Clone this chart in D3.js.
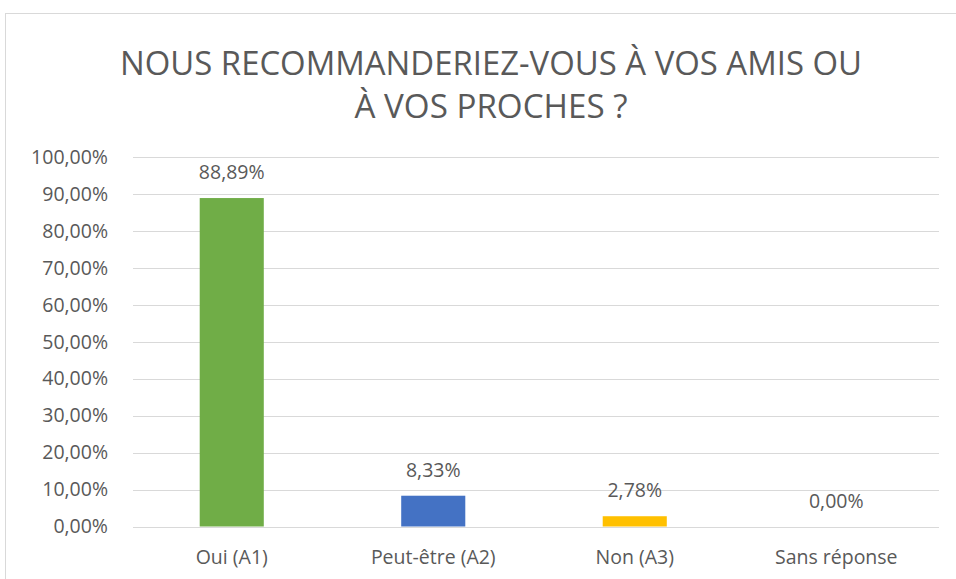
<!DOCTYPE html>
<html>
<head>
<meta charset="utf-8">
<script src="https://cdn.jsdelivr.net/npm/d3@7"></script>
<style>
  html, body { margin: 0; padding: 0; background: #fff; }
  svg { display: block; font-family: "Open Sans", sans-serif; }
</style>
</head>
<body>
<svg id="chart" width="956" height="579"></svg>
<script>
// Survey answers
const categories = ["Oui (A1)", "Peut-être (A2)", "Non (A3)", "Sans réponse"];
const values = [0.8889, 0.0833, 0.0278, 0.0];
const barColors = ["#70AD47", "#4472C4", "#FFC000", "#A5A5A5"];
const yTicks = [0, 0.1, 0.2, 0.3, 0.4, 0.5, 0.6, 0.7, 0.8, 0.9, 1.0];
const titleLines = ["NOUS RECOMMANDERIEZ-VOUS À VOS AMIS OU", "À VOS PROCHES ?"];

const svg = d3.select("#chart");
const textColor = "#595959";
const labelSize = 19.5;
const fmt = v => d3.format(".2f")(v * 100).replace(".", ",") + "%";

// Chart frame
svg.append("rect")
  .attr("x", 5.5).attr("y", 13.5)
  .attr("width", 960).attr("height", 600)
  .attr("fill", "#fff").attr("stroke", "#D9D9D9").attr("stroke-width", 1);

// Title
const titleWidths = [742, 273];
const title = svg.append("text")
  .attr("text-anchor", "middle")
  .attr("fill", textColor)
  .attr("font-size", 32);
titleLines.forEach((line, i) => {
  title.append("tspan")
    .attr("x", 491)
    .attr("y", 75 + i * 43)
    .attr("textLength", titleWidths[i])
    .attr("lengthAdjust", "spacingAndGlyphs")
    .text(line);
});

const plot = { left: 133, right: 939, top: 157, bottom: 526.5 };

const x = d3.scaleBand()
  .domain(categories)
  .range([plot.left - 2, plot.right - 2])
  .paddingInner(0.682)
  .paddingOuter(0.341);

const y = d3.scaleLinear()
  .domain([0, 1])
  .range([plot.bottom, plot.top]);

// Gridlines
svg.append("g")
  .selectAll("line")
  .data(yTicks)
  .join("line")
  .attr("x1", plot.left).attr("x2", plot.right)
  .attr("y1", d => Math.round(y(d)) + 0.5)
  .attr("y2", d => Math.round(y(d)) + 0.5)
  .attr("stroke", "#D9D9D9")
  .attr("stroke-width", 1);

// Y axis labels
const yAxis = svg.append("g")
  .attr("transform", `translate(108,0)`)
  .call(d3.axisLeft(y).tickValues(yTicks).tickFormat(fmt).tickSize(0).tickPadding(0));
yAxis.select(".domain").remove();
yAxis.selectAll("text")
  .attr("fill", textColor)
  .attr("font-size", labelSize)
  .attr("font-family", "\"Open Sans\", sans-serif");

// Bars
svg.append("g")
  .selectAll("rect")
  .data(values)
  .join("rect")
  .attr("x", (d, i) => x(categories[i]))
  .attr("y", d => y(d))
  .attr("width", x.bandwidth())
  .attr("height", d => y(0) - y(d))
  .attr("fill", (d, i) => barColors[i]);

// Value labels
svg.append("g")
  .selectAll("text")
  .data(values)
  .join("text")
  .attr("x", (d, i) => x(categories[i]) + x.bandwidth() / 2)
  .attr("y", d => y(d) - 19)
  .attr("text-anchor", "middle")
  .attr("fill", textColor)
  .attr("font-size", labelSize)
  .text(d => fmt(d));

// X axis labels
const xAxis = svg.append("g")
  .attr("transform", `translate(0,${plot.bottom})`)
  .call(d3.axisBottom(x).tickSize(0));
xAxis.select(".domain").remove();
xAxis.selectAll("text")
  .attr("dy", null)
  .attr("y", 37)
  .attr("fill", textColor)
  .attr("font-size", labelSize)
  .attr("font-family", "\"Open Sans\", sans-serif");
</script>
</body>
</html>
